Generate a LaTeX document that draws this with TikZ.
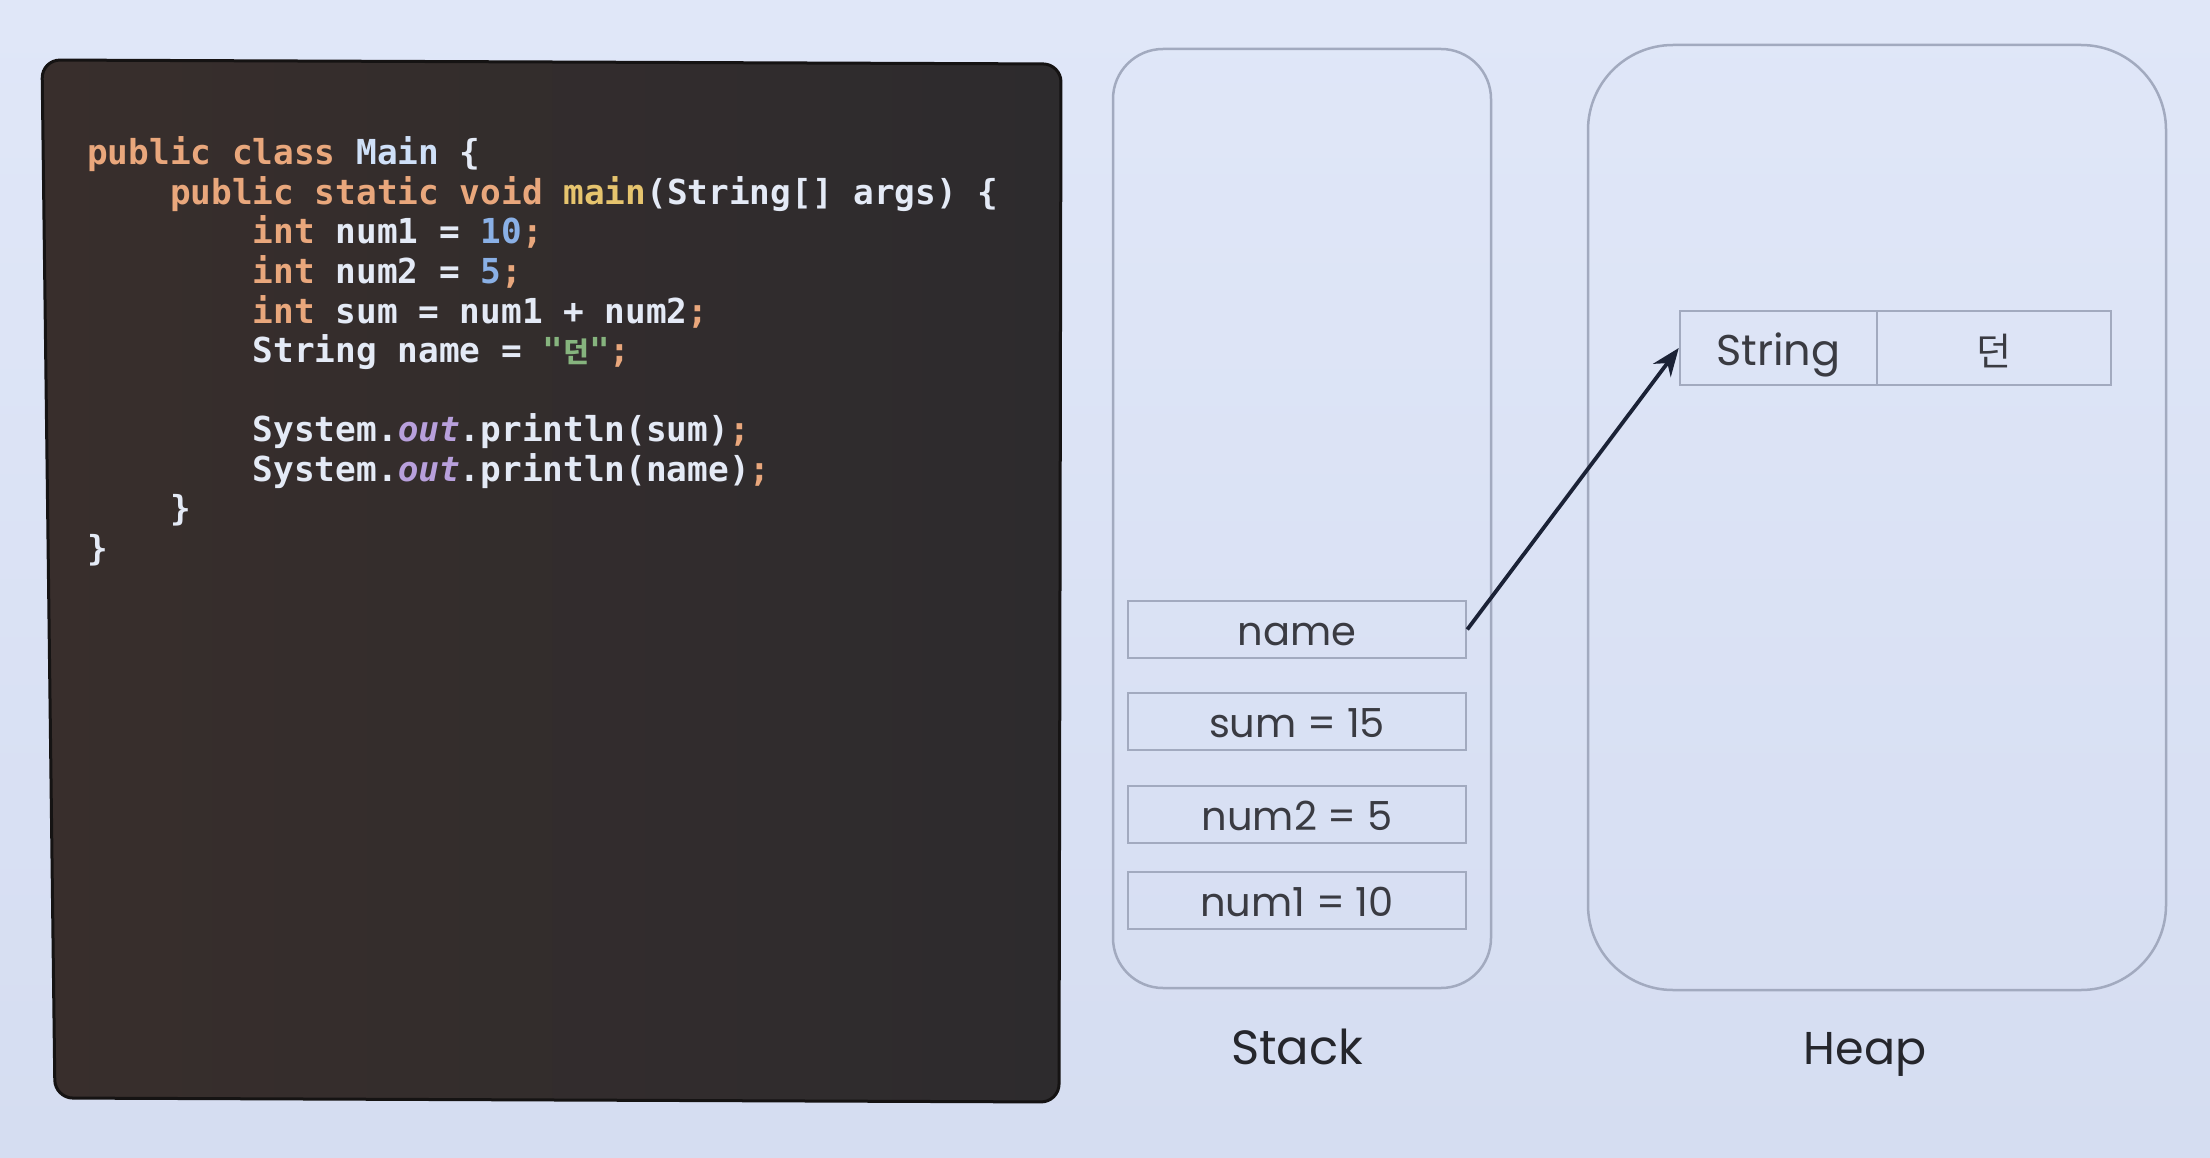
\documentclass[tikz,border=0pt]{standalone}
\usepackage{fontspec}
\usetikzlibrary{arrows.meta}
\setmainfont{Poppins}
\newfontfamily\codefont{DejaVu Sans Mono}
\newfontfamily\krfont{Noto Sans CJK KR}
\definecolor{bgtop}{HTML}{E0E7F8}
\definecolor{bgbot}{HTML}{D5DDF1}
\definecolor{panelL}{HTML}{382E2C}
\definecolor{panelR}{HTML}{2D2B2D}
\definecolor{paneledge}{HTML}{151313}
\definecolor{ckwc}{HTML}{E9A77C}
\definecolor{cplainc}{HTML}{E4EAF6}
\definecolor{cclsc}{HTML}{CFE0F8}
\definecolor{cfnc}{HTML}{E6C46E}
\definecolor{cnmc}{HTML}{8AB0E6}
\definecolor{cstc}{HTML}{86B47E}
\definecolor{coutc}{HTML}{B8A0DC}
\definecolor{boxline}{HTML}{A2AABF}
\definecolor{celltext}{HTML}{3A3B42}
\definecolor{labeltext}{HTML}{25262C}
\definecolor{arrowc}{HTML}{1B2236}
\newcommand{\ckw}[1]{\textcolor{ckwc}{#1}}
\newcommand{\ccls}[1]{\textcolor{cclsc}{#1}}
\newcommand{\cfn}[1]{\textcolor{cfnc}{#1}}
\newcommand{\cnm}[1]{\textcolor{cnmc}{#1}}
\newcommand{\cst}[1]{\textcolor{cstc}{#1}}
\newcommand{\cout}[1]{\textcolor{coutc}{\itshape #1}}
\newcommand{\csm}{\textcolor{ckwc}{;}}
\tikzset{
  codeline/.style={anchor=base west, inner sep=0pt, text=cplainc,
    font=\codefont\bfseries\fontsize{34.4}{40}\selectfont},
  container/.style={draw=boxline, line width=2.5pt, inner sep=0pt},
  cell/.style={draw=boxline, line width=2.5pt, inner sep=0pt, text=celltext,
    text height=32pt, text depth=0pt,
    minimum width=338pt, minimum height=57pt, font=\fontsize{40}{48}\selectfont},
  hcell/.style={draw=boxline, line width=2.5pt, inner sep=0pt, text=celltext,
    text height=34pt, text depth=0pt,
    minimum height=74pt, font=\fontsize{43}{50}\selectfont},
  areatitle/.style={text=labeltext, inner sep=0pt, font=\fontsize{48}{56}\selectfont}
}
\begin{document}
\begin{tikzpicture}[x=1pt,y=-1pt]
\useasboundingbox (0,0) rectangle (2210,1158);
\fill[top color=bgtop, bottom color=bgbot] (0,0) rectangle (2210,1158);
% code panel (slightly skewed, as photographed)
\draw[paneledge, line width=3pt, rounded corners=18pt, left color=panelL, right color=panelR]
  (42,60) -- (1061,64) -- (1059,1102) -- (55,1098) -- cycle;
% code lines (char width 20.7)
\node[codeline] (l1) at (87,165) {\ckw{public class} \ccls{Main} \{};
\node[codeline] (l2) at (169.8,204.5) {\ckw{public static void} \cfn{main}(String[] args) \{};
\node[codeline] (l3) at (252.6,244) {\ckw{int} num1 = \cnm{10}\csm};
\node[codeline] (l4) at (252.6,283.5) {\ckw{int} num2 = \cnm{5}\csm};
\node[codeline] (l5) at (252.6,323) {\ckw{int} sum = num1 + num2\csm};
\node[codeline] (l6) at (252.6,362.5) {String name = \cst{"{\krfont\fontsize{28}{34}\selectfont 던}"}\csm};
\node[codeline] (l8) at (252.6,441.5) {System.\cout{out}.println(sum)\csm};
\node[codeline] (l9) at (252.6,481) {System.\cout{out}.println(name)\csm};
\node[codeline] (l10) at (169.8,520.5) {\}};
\node[codeline] (l11) at (87,560) {\}};
% stack
\node[container, rounded corners=50pt, minimum width=378pt, minimum height=939pt] (stack) at (1302,518.5) {};
\node[cell] (sname) at (1297,629.5) {name};
\node[cell] (ssum) at (1297,721.5) {sum = 15};
\node[cell] (snum2) at (1297,814.5) {num2 = 5};
\node[cell] (snum1) at (1297,900.5) {num1 = 10};
\node[areatitle] (stacklabel) at (1297,1047) {Stack};
% heap
\node[container, rounded corners=85pt, minimum width=578pt, minimum height=945pt] (heap) at (1877,517.5) {};
\node[hcell, minimum width=197pt] (hstr) at (1778.5,348) {String};
\node[hcell, minimum width=234pt, font=\krfont\fontsize{38}{46}\selectfont] (hval) at (1994,348) {던};
\node[areatitle, font=\fontsize{46}{54}\selectfont] (heaplabel) at (1865,1054) {Heap};
% reference arrow
\draw[arrowc, line width=3.8pt, -{Stealth[length=28pt,width=22pt]}] (sname.east) -- (hstr.west);
\end{tikzpicture}
\end{document}
